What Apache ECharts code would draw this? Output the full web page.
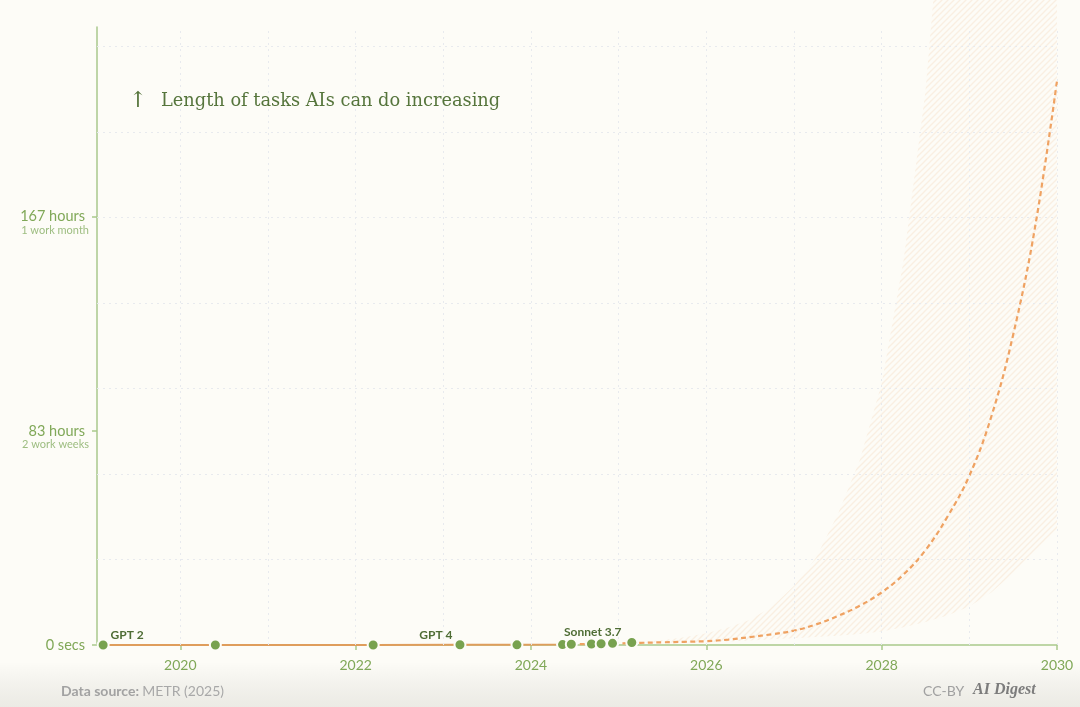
<!DOCTYPE html>
<html>
<head>
<meta charset="utf-8">
<script src="https://cdn.jsdelivr.net/npm/echarts@6/dist/echarts.min.js"></script>
<style>
  html, body { margin: 0; padding: 0; background: #fdfcf7; }
  #chart { width: 1080px; height: 707px; }
</style>
</head>
<body>
<div id="chart"></div>
<script>
// ---------------- DATA ----------------
const xTickYears = [2020, 2022, 2024, 2026, 2028, 2030];
const gridYears = [2020, 2021, 2022, 2023, 2024, 2025, 2026, 2027, 2028, 2029, 2030];
const gridHours = [33.33, 66.67, 100, 133.33, 166.67, 200, 233.33];

const yTickValues = [0, 83.5, 167];
const yTickMain = ['0 secs', '83 hours', '167 hours'];
const yTickSub = ['', '2 work weeks', '1 work month'];

// model release dates (decimal years) and task length (hours)
const releaseYears = [2019.12, 2020.40, 2022.20, 2023.19, 2023.84, 2024.36, 2024.46, 2024.69, 2024.80, 2024.93, 2025.15];
const taskHours    = [0.0006, 0.0025, 0.01, 0.08, 0.07, 0.15, 0.30, 0.37, 0.47, 0.65, 0.98];
const pointLabels  = ['GPT 2', '', '', 'GPT 4', '', '', '', '', '', '', 'Sonnet 3.7'];
const projectionStart = 2024.46;

// projected trend (dashed)
const projYears = [2024.46, 2024.75, 2025.0, 2025.25, 2025.5, 2025.75, 2026.0, 2026.25, 2026.5, 2026.75, 2027.0, 2027.25, 2027.5, 2027.75, 2028.0, 2028.25, 2028.5, 2028.75, 2029.0, 2029.25, 2029.5, 2029.75, 2030.0];
const projHours = [0.3, 0.45, 0.62, 0.85, 1.05, 1.25, 1.5, 2.1, 3.1, 4.2, 5.6, 8.0, 11.3, 15.3, 20.5, 27.5, 37, 50, 66, 89, 121, 163, 220];

// uncertainty band
const bandYears = [2025.15, 2025.5, 2025.75, 2026.0, 2026.25, 2026.5, 2026.75, 2027.0, 2027.25, 2027.5, 2027.75, 2028.0, 2028.25, 2028.5, 2028.75, 2029.0, 2029.25, 2029.5, 2029.75, 2030.0];
const bandHigh  = [0.9, 1.9, 3.0, 4.6, 6.8, 9.8, 15, 23, 34, 51, 72, 102, 150, 216, 316, 463, 680, 993, 1450, 2130];
const bandLow   = [0.9, 0.9, 1.0, 1.1, 1.4, 1.8, 2.2, 2.6, 3.1, 3.6, 4.3, 5.3, 6.9, 9.0, 11.5, 15, 20.5, 28, 36, 45];

const X_MIN = 2019.05, X_MAX = 2030;
const Y_MIN = 0, Y_MAX = 241;

const TITLE = 'Length of tasks AIs can do increasing';

// ---------------- STYLE ----------------
const BG = '#fdfcf7';
const GREEN_AXIS = '#a9c98c';
const GREEN_LABEL = '#80a858';
const GREEN_SUB = '#9dbd80';
const GREEN_DOT = '#78a24f';
const GREEN_DARK = '#4f6d35';
const ORANGE = '#df9d5c';
const ORANGE_DASH = '#efa262';
const GRID_COLOR = '#e8eaee';
const labelOffsets = { 'GPT 2': [24, -10], 'GPT 4': [-24, -10], 'Sonnet 3.7': [-39, -10] };

function hatchPattern() {
  const c = document.createElement('canvas');
  const s = 6;
  c.width = s; c.height = s;
  const ctx = c.getContext('2d');
  ctx.strokeStyle = 'rgba(242, 205, 168, 0.28)';
  ctx.lineWidth = 1.3;
  ctx.beginPath();
  ctx.moveTo(0, s); ctx.lineTo(s, 0);
  ctx.moveTo(-1, 1); ctx.lineTo(1, -1);
  ctx.moveTo(s - 1, s + 1); ctx.lineTo(s + 1, s - 1);
  ctx.stroke();
  return c;
}
const HATCH = hatchPattern();

const chart = echarts.init(document.getElementById('chart'), null, { renderer: 'canvas' });

const historyData = releaseYears.map((x, i) => [x, taskHours[i]]);
const solidData = historyData.filter(d => d[0] <= projectionStart);
const projData = projYears.map((x, i) => [x, projHours[i]]);

const dotData = historyData.map((d, i) => {
  const name = pointLabels[i];
  if (!name) return { value: d };
  return {
    value: d,
    label: {
      show: true, formatter: name, position: 'inside', offset: labelOffsets[name],
      color: GREEN_DARK, fontSize: 12, fontWeight: 'bold', fontFamily: 'Lato'
    }
  };
});

function renderBand(params, api) {
  const pts = [];
  for (let i = 0; i < bandYears.length; i++) pts.push(api.coord([bandYears[i], bandHigh[i]]));
  for (let i = bandYears.length - 1; i >= 0; i--) pts.push(api.coord([bandYears[i], bandLow[i]]));
  return {
    type: 'polygon', silent: true,
    shape: { points: pts },
    style: { fill: { image: HATCH, repeat: 'repeat' }, stroke: null }
  };
}

const option = {
  backgroundColor: BG,
  animation: false,
  grid: { left: 97, right: 23, top: 27, bottom: 62, containLabel: false, outerBoundsMode: 'none' },
  xAxis: {
    type: 'value', min: X_MIN, max: X_MAX,
    splitLine: { show: false },
    axisLine: { lineStyle: { color: GREEN_AXIS, width: 1.5 } },
    axisTick: { customValues: xTickYears, length: 5, lineStyle: { color: GREEN_AXIS, width: 1.5 } },
    axisLabel: {
      customValues: xTickYears, formatter: v => String(v),
      color: GREEN_LABEL, fontSize: 14, fontFamily: 'Lato', margin: 13
    }
  },
  yAxis: {
    type: 'value', min: Y_MIN, max: Y_MAX,
    splitLine: { show: false },
    axisLine: { show: true, lineStyle: { color: GREEN_AXIS, width: 1.5 } },
    axisTick: { show: true, customValues: yTickValues, length: 5, lineStyle: { color: GREEN_AXIS, width: 1.5 } },
    axisLabel: {
      customValues: yTickValues, margin: 8,
      formatter: v => {
        const i = yTickValues.indexOf(v);
        if (i < 0) return '';
        if (!yTickSub[i]) return '{a|' + yTickMain[i] + '}';
        return '{s| }\n{a|' + yTickMain[i] + '}\n{b|' + yTickSub[i] + '}';
      },
      rich: {
        a: { fontSize: 14.5, fontFamily: 'Lato', color: GREEN_LABEL, lineHeight: 16, align: 'right', padding: [0, 4, 0, 0] },
        b: { fontSize: 11, fontFamily: 'Lato', color: GREEN_SUB, lineHeight: 12, align: 'right' },
        s: { fontSize: 11, lineHeight: 12, align: 'right' }
      }
    }
  },
  graphic: [
    { type: 'rect', silent: true, z: -10, shape: { x: 0, y: 662, width: 1080, height: 45 },
      style: { fill: new echarts.graphic.LinearGradient(0, 0, 0, 1, [
        { offset: 0, color: 'rgba(0,0,0,0)' }, { offset: 1, color: 'rgba(60,60,40,0.09)' }]) } },
    { type: 'text', x: 138, y: 101, z: 10, style: { text: '↑', font: '22px "DejaVu Serif"', fill: '#56753c', align: 'center', verticalAlign: 'middle' } },
    { type: 'text', x: 161, y: 101, z: 10, style: { text: TITLE, font: '17.8px "DejaVu Serif"', fill: '#56753c', align: 'left', verticalAlign: 'middle' } },
    { type: 'text', x: 61, y: 691, z: 10, style: {
        text: '{b|Data source:} {n|METR (2025)}', verticalAlign: 'middle', align: 'left',
        rich: {
          b: { fontSize: 14, fontFamily: 'Lato', fontWeight: 'bold', fill: '#a2a2a2' },
          n: { fontSize: 14, fontFamily: 'Lato', fill: '#a8a8a8' }
        } } },
    { type: 'text', x: 923, y: 691, z: 10, style: { text: 'CC-BY', font: '14px Lato', fill: '#a0a0a0', verticalAlign: 'middle', align: 'left' } },
    { type: 'text', x: 973, y: 690, z: 10, style: { text: 'AI Digest', font: 'italic bold 16px "Liberation Serif"', fill: '#7c7c7c', verticalAlign: 'middle', align: 'left' } }
  ],
  series: [
    {
      name: 'band', type: 'custom', data: [[bandYears[0], bandLow[0]]], z: 1,
      renderItem: renderBand, clip: false, silent: true
    },
    {
      name: 'grid', type: 'line', data: [[X_MIN, 0]], symbol: 'none', z: 2, silent: true,
      lineStyle: { opacity: 0 },
      markLine: {
        silent: true, symbol: ['none', 'none'], label: { show: false }, animation: false,
        lineStyle: { color: GRID_COLOR, type: [2, 4], width: 1 },
        emphasis: { disabled: true },
        data: gridYears.map(y => ({ xAxis: y })).concat(gridHours.map(h => ({ yAxis: h })))
      }
    },
    {
      name: 'projection', type: 'line', data: projData, z: 3, smooth: 0.4, symbol: 'none',
      lineStyle: { color: ORANGE_DASH, width: 2.2, type: [5, 3.5] }, silent: true
    },
    {
      name: 'history', type: 'line', data: solidData, z: 4, symbol: 'none',
      lineStyle: { color: ORANGE, width: 2 }, silent: true
    },
    {
      name: 'models', type: 'scatter', data: dotData, z: 5, symbolSize: 11,
      itemStyle: { color: GREEN_DOT, borderColor: BG, borderWidth: 2, opacity: 1 },
      silent: true
    }
  ]
};

chart.setOption(option);
</script>
</body>
</html>
